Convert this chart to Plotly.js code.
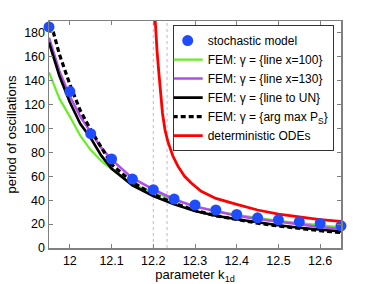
<!DOCTYPE html>
<html>
<head>
<meta charset="utf-8">
<script src="https://cdn.plot.ly/plotly-3.0.1.min.js"></script>
<style>html,body{margin:0;padding:0;background:#fff;}#chart{width:377px;height:284px;}</style>
</head>
<body>
<div id="chart"></div>
<script>
// stochastic model
var kStoch = [11.95, 12.0, 12.05, 12.1, 12.15, 12.2, 12.25, 12.3, 12.35, 12.4, 12.45, 12.5, 12.55, 12.6, 12.65];
var periodStoch = [185, 131, 95.7, 74.5, 57.7, 48.8, 41, 36, 31.8, 28.1, 25.3, 23.6, 22, 20.5, 18.6];

// FEM curves
var kFem = [11.95, 11.975, 12.0, 12.025, 12.05, 12.075, 12.1, 12.15, 12.2, 12.25, 12.3, 12.35, 12.4, 12.45, 12.5, 12.55, 12.6, 12.65];
var femLine100 = [147, 125, 110, 94, 82, 73, 66, 53, 47, 40.5, 35, 31, 27.8, 25, 22.8, 20.8, 19, 17.3];
var femLine130 = [176, 148, 127, 110, 97, 84, 74, 58.5, 49, 40.8, 34.6, 30.5, 27, 24.2, 21.8, 19.8, 17.6, 15.8];
var femLineUN = [172, 144, 122, 104, 92, 77.5, 66.5, 52.5, 43.5, 36.5, 31, 27, 24, 21.3, 19, 17, 15.3, 13.8];
var femArgMax = [194, 162, 137, 115, 99, 84, 70, 55, 45, 37.5, 31.5, 27, 23.6, 20.8, 18.4, 16.3, 14.5, 12.9];

// deterministic ODEs
var kOde = [12.203, 12.206, 12.209, 12.213, 12.217, 12.222, 12.228, 12.235, 12.247, 12.259, 12.275, 12.291, 12.315, 12.35, 12.4, 12.45, 12.5, 12.55, 12.6, 12.65];
var periodOde = [200, 180, 165, 148, 130, 113, 99, 89, 77, 68.5, 60, 54.4, 47.4, 41.5, 36.5, 31.8, 28.4, 25.8, 23.8, 22.3];

// reference vertical lines
var vLines = [12.2, 12.233];

var xTicks = [12, 12.1, 12.2, 12.3, 12.4, 12.5, 12.6];
var yTicks = [0, 20, 40, 60, 80, 100, 120, 140, 160, 180];

var names = ['stochastic model', 'FEM: γ = {line x=100}', 'FEM: γ = {line x=130}', 'FEM: γ = {line to UN}', 'FEM: γ = {arg max P<sub>S</sub>}', 'deterministic ODEs'];

var FONT = 'Liberation Sans, Arial, Helvetica, sans-serif';

var traces = [
  {x: kFem, y: femLine100, mode: 'lines', name: names[1], legendrank: 2,
   line: {color: '#66ee22', width: 2.2}},
  {x: kFem, y: femLine130, mode: 'lines', name: names[2], legendrank: 3,
   line: {color: '#b04cf0', width: 2.5}},
  {x: kFem, y: femLineUN, mode: 'lines', name: names[3], legendrank: 4,
   line: {color: '#000000', width: 2.6}},
  {x: kFem, y: femArgMax, mode: 'lines', name: names[4], legendrank: 5,
   line: {color: '#000000', width: 3.2, dash: '5px,3px'}},
  {x: kOde, y: periodOde, mode: 'lines', name: names[5], legendrank: 6,
   line: {color: '#ff0000', width: 2.8}},
  {x: kStoch, y: periodStoch, mode: 'markers', name: names[0], legendrank: 1,
   cliponaxis: false,
   marker: {color: '#1f4cff', size: 11, line: {width: 0}}}
];

var shapes = vLines.map(function (v) {
  return {type: 'line', xref: 'x', yref: 'paper', x0: v, x1: v, y0: 0, y1: 1,
          layer: 'below', line: {color: '#b4b8e6', width: 1, dash: 'dot'}};
});

var axisCommon = {
  showline: true, linecolor: '#808080', linewidth: 1.5, mirror: 'ticks',
  ticks: 'inside', ticklen: 4, tickcolor: '#808080', tickwidth: 1,
  showgrid: false, zeroline: false,
  tickfont: {family: FONT, size: 12.5, color: '#000'}
};

var layout = {
  width: 377, height: 284,
  margin: {l: 49, r: 36, t: 21, b: 36},
  paper_bgcolor: '#fff', plot_bgcolor: '#fff',
  showlegend: true,
  font: {family: FONT, color: '#000'},
  xaxis: Object.assign({}, axisCommon, {
    range: [11.95, 12.65], tickvals: xTicks, ticktext: xTicks.map(String),
    title: {text: 'parameter k<sub>1d</sub>', font: {family: FONT, size: 13, color: '#000'}, standoff: 3}
  }),
  yaxis: Object.assign({}, axisCommon, {
    range: [0, 190], tickvals: yTicks, ticktext: yTicks.map(String),
    title: {text: 'period of oscillations', font: {family: FONT, size: 13, color: '#000'}, standoff: 4}
  }),
  legend: {
    x: 0.975, y: 0.982, xanchor: 'right', yanchor: 'top',
    bgcolor: '#fff', bordercolor: '#333', borderwidth: 1,
    font: {family: FONT, size: 12, color: '#000'},
    tracegroupgap: 0, itemwidth: 30, indentation: -6
  },
  shapes: shapes
};

Plotly.newPlot('chart', traces, layout, {displayModeBar: false, staticPlot: true});
</script>
</body>
</html>
